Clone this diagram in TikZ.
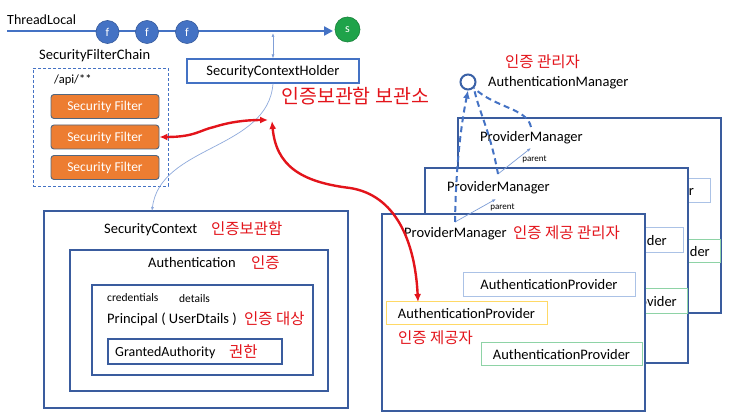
\documentclass[tikz,border=0pt]{standalone}
\usepackage{fontspec}
\setmainfont{Carlito}
\newfontfamily\kr{Noto Sans CJK KR}
\usetikzlibrary{arrows.meta}
\definecolor{mblue}{HTML}{4472C4}
\definecolor{fblue}{HTML}{3A5C9E}
\definecolor{lblue}{HTML}{8FAADC}
\definecolor{kred}{HTML}{E3141B}
\definecolor{org}{HTML}{ED7D31}
\definecolor{orgb}{HTML}{52677F}
\definecolor{sgreen}{HTML}{1FA34A}
\definecolor{pgreen}{HTML}{8ED3A6}
\definecolor{pyellow}{HTML}{FFD966}
\definecolor{pblue}{HTML}{ABC2E6}
\begin{document}
\begin{tikzpicture}[x=1pt,y=-1pt,
  lbl/.style={inner sep=0pt, anchor=west, text height=9.3pt, text depth=0pt, font=\fontsize{14.5}{17}\selectfont},
  frag/.style={inner sep=0pt, anchor=east, text height=9.3pt, text depth=0pt, font=\fontsize{14.5}{17}\selectfont},
  kor/.style={inner sep=0pt, anchor=west, text height=11.8pt, text depth=0pt, text=kred, font=\kr\fontsize{15.5}{18}\selectfont},
  korbig/.style={kor, text height=14.8pt, font=\kr\fontsize{19.5}{22}\selectfont},
  small/.style={inner sep=0pt, anchor=west, text height=7.4pt, text depth=0pt, font=\fontsize{11.5}{13}\selectfont},
  tiny/.style={inner sep=0pt, text height=5.8pt, text depth=0pt, font=\fontsize{9}{11}\selectfont},
  sfbox/.style={draw=orgb, fill=org, line width=0.9pt, rounded corners=3pt, minimum width=108pt, minimum height=24pt, inner sep=0pt, text=white, text height=8.7pt, text depth=0pt, font=\fontsize{13.5}{16}\selectfont},
  fcirc/.style={circle, fill=mblue, draw=mblue!80!black, line width=0.6pt, minimum size=23pt, inner sep=0pt, text=white, font=\fontsize{12}{14}\selectfont},
  ctxbox/.style={draw=fblue, line width=1.3pt, inner sep=0pt},
  frame/.style={draw=fblue, line width=1.3pt, fill=white, minimum width=263pt, minimum height=195pt, inner sep=0pt},
  provbox/.style={line width=1pt, fill=white, minimum height=24pt, inner sep=0pt, text height=9.3pt, text depth=0pt, font=\fontsize{14.5}{17}\selectfont},
  redarrow/.style={draw=kred, line width=2.4pt, {Latex[length=8pt,width=7pt]}-{Latex[length=8pt,width=7pt]}},
  amdash/.style={draw=mblue, line width=2pt, dash pattern=on 6pt off 4pt},
  thinarrow/.style={draw=lblue, line width=0.7pt, -{Latex[length=4pt,width=3pt]}}
]
\useasboundingbox (0,0) rectangle (729,414);
\fill[white] (0,0) rectangle (729,414);

% ---- ThreadLocal timeline
\node[lbl, font=\fontsize{14}{17}\selectfont] (tl) at (7,20) {ThreadLocal};
\coordinate (tl0) at (7,31);
\coordinate (tl1) at (333,31);
\draw[mblue, line width=2.5pt, -{Triangle[length=9pt,width=9pt]}] (tl0) -- (tl1);
\node[fcirc] (c1) at (107.5,32) {f};
\node[fcirc] (c2) at (147,32) {f};
\node[fcirc] (c3) at (187,32) {f};
\node[fcirc, fill=sgreen, draw=sgreen!80!black, minimum size=25pt] (cs) at (347.5,29.5) {s};

% ---- SecurityFilterChain
\node[lbl] (sfc) at (39,55) {SecurityFilterChain};
\node[draw=mblue, line width=0.8pt, dash pattern=on 3pt off 2pt, minimum width=135pt, minimum height=118pt, inner sep=0pt] (chain) at (100.5,127) {};
\node[inner sep=0pt, anchor=west, text height=8pt, text depth=0pt, font=\fontsize{12.5}{15}\selectfont] (api) at (54,80) {/api/**};
\node[sfbox] (sf1) at (105,106.5) {Security Filter};
\node[sfbox] (sf2) at (105,137) {Security Filter};
\node[sfbox] (sf3) at (105,167.5) {Security Filter};

% ---- SecurityContextHolder
\node[draw=mblue, line width=1.2pt, minimum width=172pt, minimum height=24pt, inner sep=0pt, text height=9.3pt, text depth=0pt, font=\fontsize{14.5}{17}\selectfont] (ctxh) at (273,71) {SecurityContextHolder};
\coordinate (tlhold) at (273,33);
\draw[draw=lblue!80!mblue, line width=0.7pt, {Latex[length=4pt,width=3pt]}-{Latex[length=4pt,width=3pt]}] (tlhold) -- (ctxh.north);
\node[korbig] (holdlbl) at (281,96) {인증보관함 보관소};

% ---- SecurityContext
\node[ctxbox, minimum width=304pt, minimum height=197pt] (ctx) at (196,309.5) {};
\node[ctxbox, minimum width=258pt, minimum height=141pt] (auth) at (199,320.5) {};
\node[ctxbox, minimum width=221pt, minimum height=90pt] (princ) at (202.5,330) {};
\node[ctxbox, minimum width=174pt, minimum height=25pt] (ga) at (195,351.5) {};
\node[lbl] (ctxt) at (104,229) {SecurityContext};
\node[kor] (ctxk) at (211,229) {인증보관함};
\node[lbl] (autht) at (148,263) {Authentication};
\node[kor] (authk) at (251,263) {인증};
\node[small] (cred) at (107,298) {credentials};
\node[small] (det) at (179,299) {details};
\node[lbl] (prt) at (107,318.5) {Principal ( UserDtails )};
\node[kor] (prk) at (244,318.5) {인증 대상};
\node[lbl, font=\fontsize{14}{17}\selectfont] (gat) at (115,352) {GrantedAuthority};
\node[kor] (gak) at (229,352) {권한};
\coordinate (ctxin) at (152,211);
\draw[thinarrow] (ctxh.south) .. controls (268,150) and (160,145) .. (ctxin);

% ---- AuthenticationManager
\node[kor] (amk) at (505,62) {인증 관리자};
\node[circle, draw=mblue!85!black, line width=2pt, fill=white, minimum size=15pt, inner sep=0pt] (am) at (468,82) {};
\node[lbl] (amt) at (488,82) {AuthenticationManager};

% ---- ProviderManager frame 3 (back)
\node[frame] (f3) at (589.5,215.5) {};
\node[lbl] (f3t) at (480,137) {ProviderManager};
\node[provbox, draw=pblue, minimum width=171pt] (f3a) at (624.5,190.5) {};
\node[frag] (f3at) at (694,190.5) {r};
\node[provbox, draw=pgreen, minimum width=160pt, minimum height=23pt] (f3c) at (640,251.5) {};
\node[frag] (f3ct) at (710,251.5) {ider};

% ---- ProviderManager frame 2
\node[frame] (f2) at (556.5,265.5) {};
\node[lbl] (f2t) at (447,187) {ProviderManager};
\node[provbox, draw=pblue, minimum width=172pt, minimum height=25pt] (f2a) at (597,240.5) {};
\node[frag] (f2at) at (667,240.5) {ider};
\node[provbox, draw=pgreen, minimum width=161pt, minimum height=25pt] (f2c) at (606.5,301.5) {};
\node[frag] (f2ct) at (677,301.5) {ovider};

% ---- ProviderManager frame 1 (front)
\node[frame, minimum height=197pt] (f1) at (513.5,312.5) {};
\node[lbl] (f1t) at (404,233) {ProviderManager};
\node[kor] (f1k) at (513,233) {인증 제공 관리자};
\node[provbox, draw=pblue, minimum width=172pt] (f1a) at (549,285) {AuthenticationProvider};
\node[provbox, draw=pyellow, minimum width=161pt, minimum height=23pt] (f1b) at (466.5,313.5) {AuthenticationProvider};
\node[kor] (f1bk) at (398,338) {인증 제공자};
\node[provbox, draw=pgreen, minimum width=161pt, minimum height=23pt] (f1c) at (561.5,354.5) {AuthenticationProvider};

% ---- parent links
\coordinate (p1s) at (455,222);
\coordinate (p1e) at (496,199);
\coordinate (p2s) at (498,174);
\coordinate (p2e) at (531,148);
\draw[thinarrow, draw=mblue!70] (p1s) -- (p1e);
\draw[thinarrow, draw=mblue!70] (p2s) -- (p2e);
\node[tiny] (par1) at (502.5,207) {parent};
\node[tiny] (par2) at (534.5,159) {parent};

% ---- dashed links to AuthenticationManager
\coordinate (d3s) at (531,127);
\draw[amdash, -{Latex[length=8pt,width=7pt]}] (p1s) .. controls (456,160) and (462,120) .. (am.south);
\draw[amdash] (p2s) .. controls (490,130) and (478,110) .. (am.south east);
\draw[amdash] (d3s) .. controls (527,108) and (495,108) .. (am.south east);

% ---- red arrows
\coordinate (hold) at (268,120);
\coordinate (hold2) at (272,121);
\coordinate (apyin) at (418,302);
\draw[redarrow] (sf2.east) .. controls (195,137) and (200,130) .. (214,127) .. controls (230,122) and (245,120) .. (hold);
\draw[redarrow] (hold2) .. controls (276,165) and (300,182) .. (350,188) .. controls (395,195) and (415,240) .. (apyin);
\end{tikzpicture}
\end{document}
